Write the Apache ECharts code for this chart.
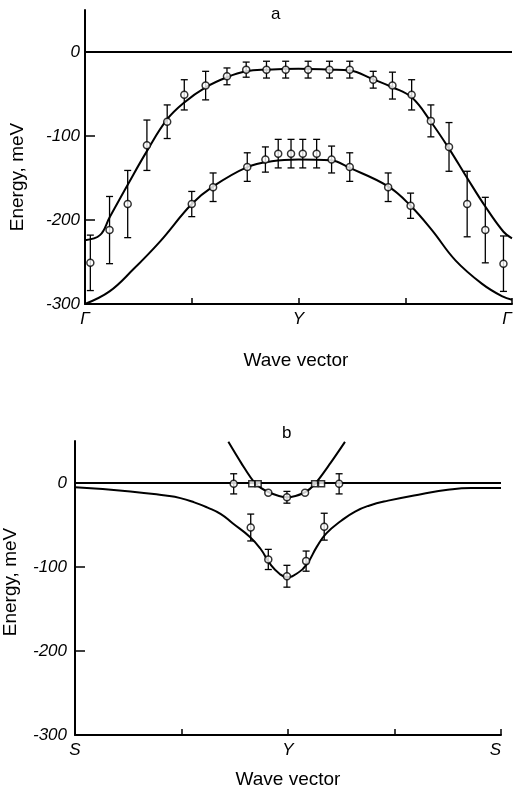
<!DOCTYPE html>
<html>
<head>
<meta charset="utf-8">
<script src="https://cdn.jsdelivr.net/npm/echarts@6/dist/echarts.min.js"></script>
<style>html,body{margin:0;padding:0;background:#fff;}#c{width:515px;height:791px;}</style>
</head>
<body>
<div id="c"></div>
<script>
// ---------- Panel a ----------
const aUpperX   = [0.05, 0.23, 0.40, 0.58, 0.77, 0.93, 1.13, 1.33, 1.51, 1.70, 1.88, 2.09, 2.29, 2.48, 2.70, 2.88, 3.06, 3.24, 3.41, 3.58, 3.75, 3.92];
const aUpperE   = [-251, -212, -181, -111, -83, -51, -40, -29, -21, -21, -21, -21, -21, -21, -33, -40, -51, -82, -113, -181, -212, -252];
const aUpperErr = [33, 40, 40, 30, 20, 18, 17, 10, 9, 10, 10, 10, 10, 10, 10, 16, 18, 19, 29, 39, 39, 33];
const aLowerX   = [1.00, 1.20, 1.52, 1.69, 1.81, 1.93, 2.04, 2.17, 2.31, 2.48, 2.84, 3.05];
const aLowerE   = [-181, -161, -137, -128, -121, -121, -121, -121, -128, -137, -161, -183];
const aLowerErr = [15, 17, 17, 15, 17, 17, 17, 17, 16, 17, 17, 15];
const aCurve1X  = [0, 0.14, 0.23, 0.40, 0.58, 0.77, 0.93, 1.13, 1.33, 1.51, 1.70, 2.00, 2.30, 2.48, 2.69, 2.88, 3.06, 3.24, 3.41, 3.58, 3.75, 3.92, 4.00];
const aCurve1E  = [-224, -218, -197, -158, -118, -80, -60, -42, -30, -23, -21, -20, -21, -22, -32, -42, -54, -83, -115, -150, -184, -214, -222];
const aCurve2X  = [0, 0.23, 0.45, 0.70, 1.00, 1.20, 1.52, 1.75, 2.00, 2.30, 2.48, 2.84, 3.05, 3.25, 3.47, 3.72, 3.91, 4.00];
const aCurve2E  = [-300, -285, -259, -226, -181, -160, -137, -130, -128, -129, -138, -160, -183, -212, -248, -276, -291, -295];
const aTickLabels = {0: 'Γ', 2: 'Y', 4: 'Γ'};

// ---------- Panel b ----------
const bLowerX   = [1.65, 1.815, 1.99, 2.17, 2.34];
const bLowerE   = [-53, -91, -111, -93, -52];
const bLowerErr = [16, 12, 13, 12, 16];
const bZeroX    = [1.49, 1.99, 2.48];
const bZeroE    = [-1, -17, -1];
const bZeroErr  = [12, 7, 12];
const bDipX     = [1.815, 2.16];
const bDipE     = [-11.5, -11.5];
const bSquareX  = [1.66, 1.72, 2.25, 2.315];
const bSquareE  = [-1, -1, -1, -1];
const bCurveX   = [0, 0.52, 0.85, 0.99, 1.12, 1.24, 1.37, 1.48, 1.64, 1.74, 1.83, 1.92, 1.99, 2.08, 2.18, 2.27, 2.36, 2.50, 2.63, 2.76, 2.94, 3.26, 3.50, 3.72, 4.00];
const bCurveE   = [-5, -10, -15, -18, -23, -29, -37, -48, -64, -78, -96, -108, -112, -108, -96, -76, -60, -45, -34, -27, -21, -13, -8, -6, -6];
const bParabX   = [1.44, 1.56, 1.69, 1.82, 1.99, 2.16, 2.26, 2.40, 2.535];
const bParabE   = [49, 24, 0, -11, -17, -11, 0, 24, 49];
const bTickLabels = {0: 'S', 2: 'Y', 4: 'S'};

const yLabelVals = [-300, -200, -100, 0];
const yTickVals  = [-200, -100];

const zip = (xs, ys) => xs.map((x, i) => [x, ys[i]]);
const zip3 = (xs, ys, es) => xs.map((x, i) => [x, ys[i], es[i]]);

const FONT = 'Liberation Sans, Arial, sans-serif';

function errRender(params, api) {
  const x = api.value(0), y = api.value(1), e = api.value(2);
  const t = api.coord([x, y + e]), b = api.coord([x, y - e]);
  const w = 3.5;
  const st = {stroke: '#000', lineWidth: 1.3};
  return {type: 'group', children: [
    {type: 'line', shape: {x1: t[0], y1: t[1], x2: b[0], y2: b[1]}, style: st},
    {type: 'line', shape: {x1: t[0] - w, y1: t[1], x2: t[0] + w, y2: t[1]}, style: st},
    {type: 'line', shape: {x1: b[0] - w, y1: b[1], x2: b[0] + w, y2: b[1]}, style: st}
  ]};
}

function errSeries(idx, xs, ys, es) {
  return {type: 'custom', xAxisIndex: idx, yAxisIndex: idx, renderItem: errRender,
    dimensions: ['x', 'y', 'e'], encode: {x: 0, y: 1},
    data: zip3(xs, ys, es), z: 3, silent: true};
}
function markSeries(idx, xs, ys, symbol, size) {
  return {type: 'scatter', xAxisIndex: idx, yAxisIndex: idx, symbol: symbol || 'circle',
    symbolSize: size || 7, data: zip(xs, ys), z: 5, silent: true,
    itemStyle: {color: '#fff', borderColor: '#000', borderWidth: 1.5}};
}
function curveSeries(idx, xs, ys, smooth) {
  return {type: 'line', xAxisIndex: idx, yAxisIndex: idx, data: zip(xs, ys), smooth: smooth,
    showSymbol: false, silent: true, z: 2, lineStyle: {color: '#000', width: 2}};
}

function xAxisDef(idx, labels) {
  return {type: 'value', gridIndex: idx, min: 0, max: 4, interval: 1,
    axisLine: {show: true, onZero: false, lineStyle: {color: '#000', width: 2}},
    axisTick: {show: true, inside: true, length: 6, lineStyle: {color: '#000', width: 1.5}, customValues: [1, 2, 3, 4]},
    splitLine: {show: false},
    axisLabel: {customValues: [0, 2, 4], formatter: v => labels[v] || '', color: '#000',
      fontFamily: FONT, fontStyle: 'italic', fontSize: 17, margin: 7, alignMaxLabel: 'right'}};
}
function yAxisDef(idx, margin) {
  return {type: 'value', gridIndex: idx, min: -300, max: 50, interval: 50,
    axisLine: {show: true, onZero: false, lineStyle: {color: '#000', width: 2}},
    axisTick: {show: true, inside: true, length: 10, lineStyle: {color: '#000', width: 1.5}, customValues: yTickVals},
    splitLine: {show: false},
    axisLabel: {customValues: yLabelVals, formatter: v => String(v), color: '#000',
      fontFamily: FONT, fontStyle: 'italic', fontSize: 17, margin: margin}};
}

const chart = echarts.init(document.getElementById('c'), null, {renderer: 'canvas'});
chart.setOption({
  animation: false,
  backgroundColor: '#fff',
  grid: [
    {left: 85, top: 10, width: 427, height: 294},
    {left: 75, top: 441, width: 426, height: 294}
  ],
  xAxis: [xAxisDef(0, aTickLabels), xAxisDef(1, bTickLabels)],
  yAxis: [yAxisDef(0, 5), yAxisDef(1, 8)],
  graphic: [
    {type: 'text', left: 271, top: 6, style: {text: 'a', font: '17px ' + FONT, fill: '#000'}},
    {type: 'text', left: 282, top: 425, style: {text: 'b', font: '17px ' + FONT, fill: '#000'}},
    {type: 'text', x: 296, y: 361, style: {text: 'Wave vector', font: '19px ' + FONT, fill: '#000', align: 'center', verticalAlign: 'middle'}},
    {type: 'text', x: 288, y: 780, style: {text: 'Wave vector', font: '19px ' + FONT, fill: '#000', align: 'center', verticalAlign: 'middle'}},
    {type: 'text', x: 18, y: 177, rotation: Math.PI / 2, style: {text: 'Energy, meV', font: '19px ' + FONT, fill: '#000', align: 'center', verticalAlign: 'middle'}},
    {type: 'text', x: 11, y: 582, rotation: Math.PI / 2, style: {text: 'Energy, meV', font: '19px ' + FONT, fill: '#000', align: 'center', verticalAlign: 'middle'}}
  ],
  series: [
    curveSeries(0, [0, 4], [0, 0], false),
    curveSeries(0, aCurve1X, aCurve1E, 0.4),
    curveSeries(0, aCurve2X, aCurve2E, 0.4),
    errSeries(0, aUpperX, aUpperE, aUpperErr),
    errSeries(0, aLowerX, aLowerE, aLowerErr),
    markSeries(0, aUpperX, aUpperE),
    markSeries(0, aLowerX, aLowerE),

    curveSeries(1, [0, 4], [0, 0], false),
    curveSeries(1, bCurveX, bCurveE, 0.5),
    curveSeries(1, bParabX, bParabE, 0.3),
    errSeries(1, bLowerX, bLowerE, bLowerErr),
    errSeries(1, bZeroX, bZeroE, bZeroErr),
    markSeries(1, bLowerX, bLowerE),
    markSeries(1, bZeroX, bZeroE),
    markSeries(1, bDipX, bDipE),
    markSeries(1, bSquareX, bSquareE, 'rect', 6)
  ]
});
</script>
</body>
</html>
